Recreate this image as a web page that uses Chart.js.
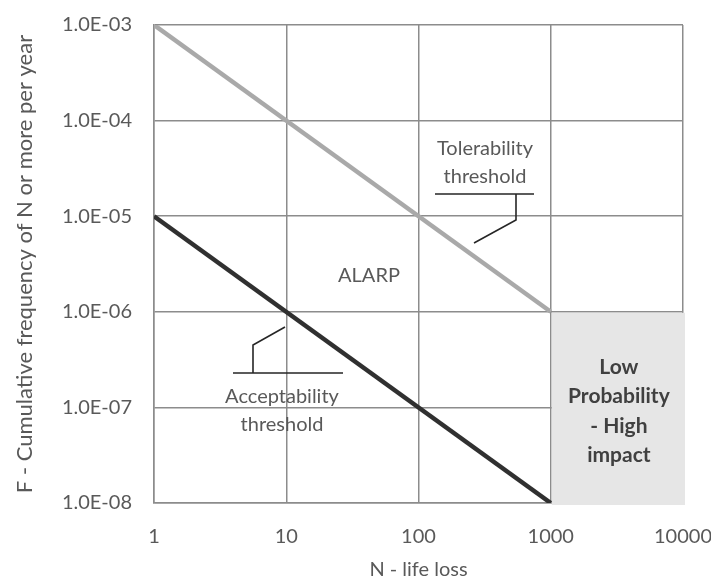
<!DOCTYPE html>
<html>
<head>
<meta charset="utf-8">
<script src="https://cdn.jsdelivr.net/npm/chart.js@4.4.1/dist/chart.umd.min.js"></script>
<style>
  html, body { margin: 0; padding: 0; background: #fff; }
  #wrap { width: 711px; height: 582px; }
</style>
</head>
<body>
<div id="wrap"><canvas id="fn"></canvas></div>
<script>
// tick values
const nTicks = [1, 10, 100, 1000, 10000];
const fTicks = [1e-8, 1e-7, 1e-6, 1e-5, 1e-4, 1e-3];

// threshold lines (N, F)
const tolN = [1, 1000];
const tolF = [1e-3, 1e-6];
const accN = [1, 1000];
const accF = [1e-5, 1e-8];

// low probability - high impact region
const lphiN = [1000, 10000];
const lphiF = [1e-8, 1e-6];

const toPts = (xs, ys) => xs.map((x, i) => ({ x: x, y: ys[i] }));
const FONT = 'Lato, "Open Sans", sans-serif';
const TXT = '#595959';

const fmtF = (v) => {
  const e = Math.round(Math.log10(v));
  const s = Math.abs(e) < 10 ? '0' + Math.abs(e) : '' + Math.abs(e);
  return '1.0E' + (e < 0 ? '-' : '+') + s;
};

const overlay = {
  id: 'overlay',
  beforeDatasetsDraw(chart) {
    const { ctx, scales: { x, y } } = chart;
    const x0 = x.getPixelForValue(lphiN[0]), x1 = x.getPixelForValue(lphiN[1]);
    const y0 = y.getPixelForValue(lphiF[1]), y1 = y.getPixelForValue(lphiF[0]);
    ctx.save();
    ctx.fillStyle = '#e6e6e6';
    ctx.fillRect(x0 + 1, y0 + 1, x1 - x0 + 1, y1 - y0 + 1);
    ctx.restore();
  },
  afterDatasetsDraw(chart) {
    const { ctx, scales: { x } } = chart;
    const px = (n) => x.getPixelForValue(n);
    ctx.save();
    ctx.textAlign = 'center';
    ctx.textBaseline = 'middle';

    // box label
    ctx.fillStyle = '#404040';
    ctx.font = 'bold 21px ' + FONT;
    const cx = (px(lphiN[0]) + px(lphiN[1])) / 2;
    ['Low', 'Probability', '- High', 'impact'].forEach((t, i) => ctx.fillText(t, cx + 2, 367 + i * 29.5));

    // plain labels
    ctx.fillStyle = TXT;
    ctx.font = '20px ' + FONT;
    ctx.fillText('Tolerability', 485, 149);
    ctx.fillText('threshold', 485, 177);
    ctx.fillText('ALARP', 369, 276);
    ctx.fillText('Acceptability', 282, 397);
    ctx.fillText('threshold', 282, 425);

    // leader lines
    ctx.strokeStyle = '#262626';
    ctx.lineWidth = 1.6;
    ctx.beginPath();
    ctx.moveTo(435, 194); ctx.lineTo(534, 194);
    ctx.moveTo(516, 194); ctx.lineTo(516, 220); ctx.lineTo(474, 243);
    ctx.moveTo(233, 373); ctx.lineTo(343, 373);
    ctx.moveTo(253, 373); ctx.lineTo(253, 345); ctx.lineTo(285, 327);
    ctx.stroke();
    ctx.restore();
  }
};

new Chart(document.getElementById('fn'), {
  type: 'scatter',
  data: {
    datasets: [
      {
        label: 'Tolerability threshold',
        data: toPts(tolN, tolF),
        showLine: true,
        borderColor: '#a9a9a9',
        borderWidth: 4.5,
        pointRadius: 0,
        borderCapStyle: 'butt'
      },
      {
        label: 'Acceptability threshold',
        data: toPts(accN, accF),
        showLine: true,
        borderColor: '#303030',
        borderWidth: 4.5,
        pointRadius: 0,
        borderCapStyle: 'butt'
      }
    ]
  },
  options: {
    responsive: true,
    maintainAspectRatio: false,
    animation: false,
    layout: { padding: { top: 25, right: 28, left: 10, bottom: 0 } },
    plugins: { legend: { display: false }, tooltip: { enabled: false } },
    scales: {
      x: {
        type: 'logarithmic',
        min: 1,
        max: 10000,
        afterBuildTicks: (s) => { s.ticks = nTicks.map(v => ({ value: v })); },
        afterFit: (s) => { s.height = 79; s.paddingLeft = 0; s.paddingRight = 0; },
        ticks: {
          color: TXT,
          font: { family: FONT, size: 20 },
          padding: 22,
          maxRotation: 0,
          callback: (v) => String(v)
        },
        grid: { color: '#8c8c8c', lineWidth: 1.5, drawTicks: false },
        border: { color: '#8c8c8c', width: 1.5 },
        title: {
          display: true,
          text: 'N - life loss',
          color: TXT,
          font: { family: FONT, size: 20 },
          padding: { top: 0, bottom: 0 }
        }
      },
      y: {
        type: 'logarithmic',
        min: 1e-8,
        max: 1e-3,
        afterBuildTicks: (s) => { s.ticks = fTicks.map(v => ({ value: v })); },
        afterFit: (s) => { s.width = 144; s.paddingTop = 0; s.paddingBottom = 0; },
        ticks: {
          color: TXT,
          font: { family: FONT, size: 20 },
          padding: 22,
          callback: (v) => fmtF(v)
        },
        grid: { color: '#8c8c8c', lineWidth: 1.5, drawTicks: false },
        border: { color: '#8c8c8c', width: 1.5 },
        title: {
          display: true,
          text: 'F - Cumulative frequency of N or more per year',
          color: TXT,
          font: { family: FONT, size: 22 },
          padding: { top: 2, bottom: 0 }
        }
      }
    }
  },
  plugins: [overlay]
});
</script>
</body>
</html>
